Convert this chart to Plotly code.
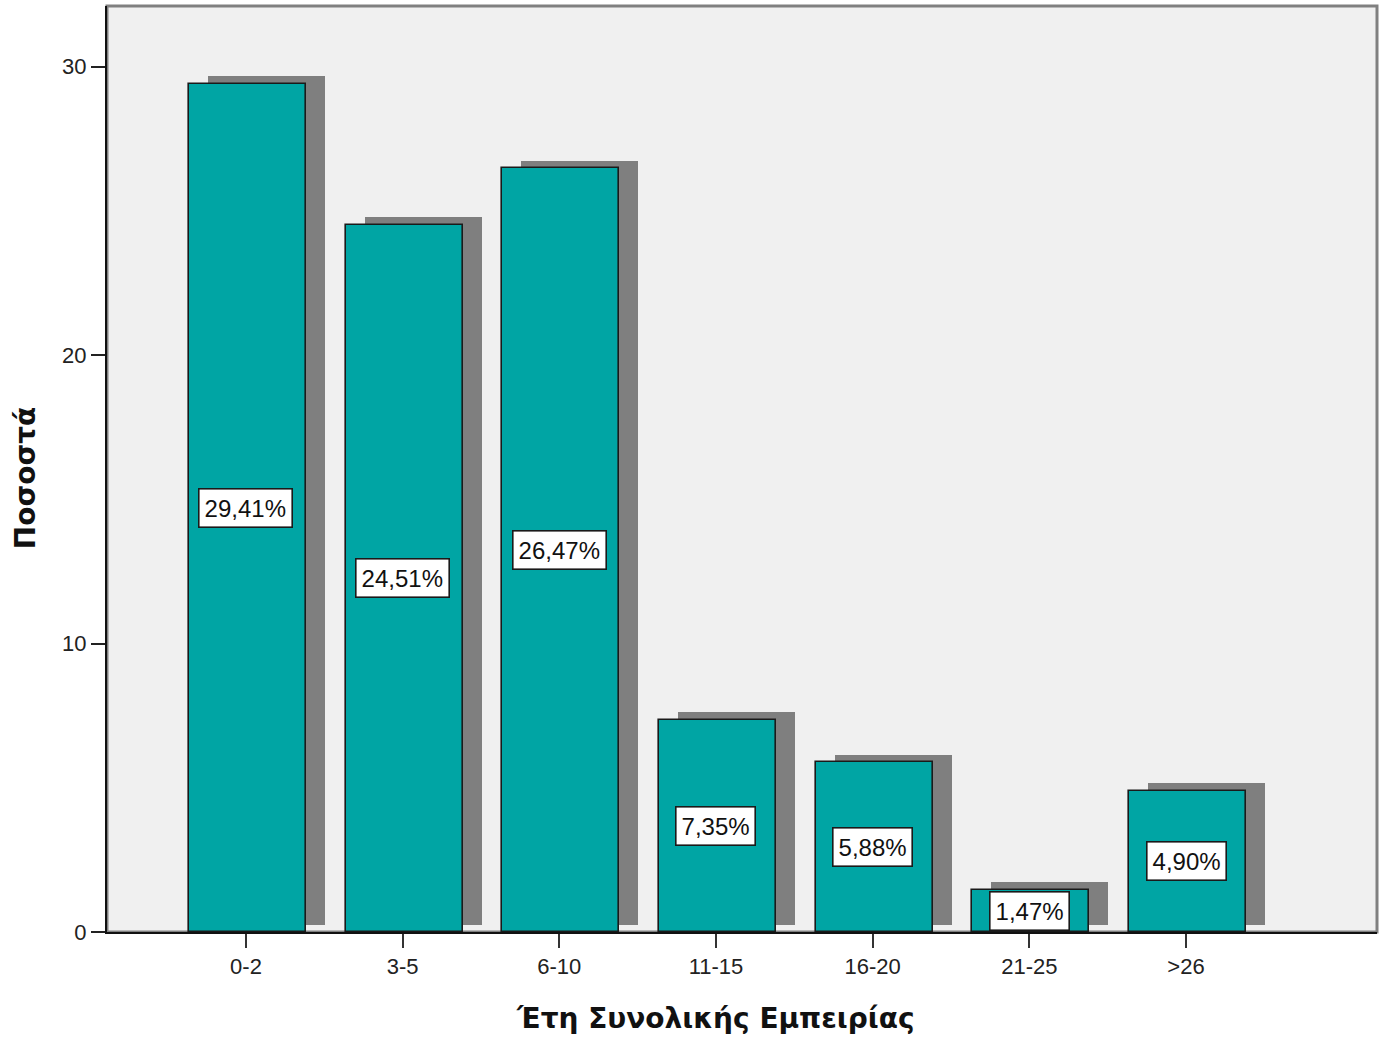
import plotly.graph_objects as go

categories = ["0-2", "3-5", "6-10", "11-15", "16-20", "21-25", ">26"]
percentages = [29.41, 24.51, 26.47, 7.35, 5.88, 1.47, 4.90]
value_labels = ["29,41%", "24,51%", "26,47%", "7,35%", "5,88%", "1,47%", "4,90%"]
y_ticks = [0, 10, 20, 30]

FONT = "Liberation Sans, Arial, sans-serif"
TITLE_FONT = "DejaVu Sans, Verdana, sans-serif"
BAR_W = 0.747
SH_DX = 0.121
SH_DY = 0.26

fig = go.Figure()

# shadow
fig.add_trace(go.Bar(
    x=categories, y=percentages, base=SH_DY,
    width=BAR_W, offset=-BAR_W / 2 + SH_DX + 0.01,
    marker=dict(color="#7f7f7f", line=dict(width=0)),
    hoverinfo="skip", showlegend=False,
))
# bars
fig.add_trace(go.Bar(
    x=categories, y=percentages,
    width=BAR_W, offset=-BAR_W / 2 + 0.01,
    marker=dict(color="#00a5a4", line=dict(color="#1a1a1a", width=1.6)),
    showlegend=False,
))

for c, v, t in zip(categories, percentages, value_labels):
    fig.add_annotation(
        x=c, y=v / 2, text=t, showarrow=False,
        font=dict(family=FONT, size=24, color="#111111"),
        bgcolor="white", bordercolor="#1a1a1a", borderwidth=1.6, borderpad=5,
        xanchor="center", yanchor="middle",
    )

fig.add_annotation(
    x=-0.0646, y=0.491, xref="paper", yref="paper",
    text="<b>Ποσοστά</b>", textangle=-90, showarrow=False,
    font=dict(family=TITLE_FONT, size=28, color="#111111"),
    xanchor="center", yanchor="middle",
)
fig.add_annotation(
    x=0.479, y=-0.093, xref="paper", yref="paper",
    text="<b>Έτη Συνολικής Εμπειρίας</b>", showarrow=False,
    font=dict(family=TITLE_FONT, size=28, color="#111111"),
    xanchor="center", yanchor="middle",
)

# frame (top/right gray)
fig.add_shape(type="rect", xref="paper", yref="paper", x0=0, y0=0, x1=1, y1=1,
              line=dict(color="#808080", width=3), layer="below")

fig.update_layout(
    width=1388, height=1040,
    margin=dict(l=107, r=11, t=6, b=108),
    plot_bgcolor="#f0f0f0", paper_bgcolor="white",
    barmode="overlay", bargap=0,
    font=dict(family=FONT, size=22, color="#222222"),
    xaxis=dict(
        type="category", range=[-0.887, 7.219],
        showgrid=False, zeroline=False,
        showline=True, linecolor="#111111", linewidth=2,
        ticks="outside", ticklen=14, tickwidth=2, tickcolor="#333333",
        tickfont=dict(family=FONT, size=22, color="#222222"),
    ),
    yaxis=dict(
        range=[0, 32.1], tickvals=y_ticks,
        showgrid=False, zeroline=False,
        showline=True, linecolor="#111111", linewidth=2,
        ticks="outside", ticklen=14, tickwidth=2, tickcolor="#222222",
        tickfont=dict(family=FONT, size=22, color="#222222"),
    ),
)

fig.write_html("out.html")
